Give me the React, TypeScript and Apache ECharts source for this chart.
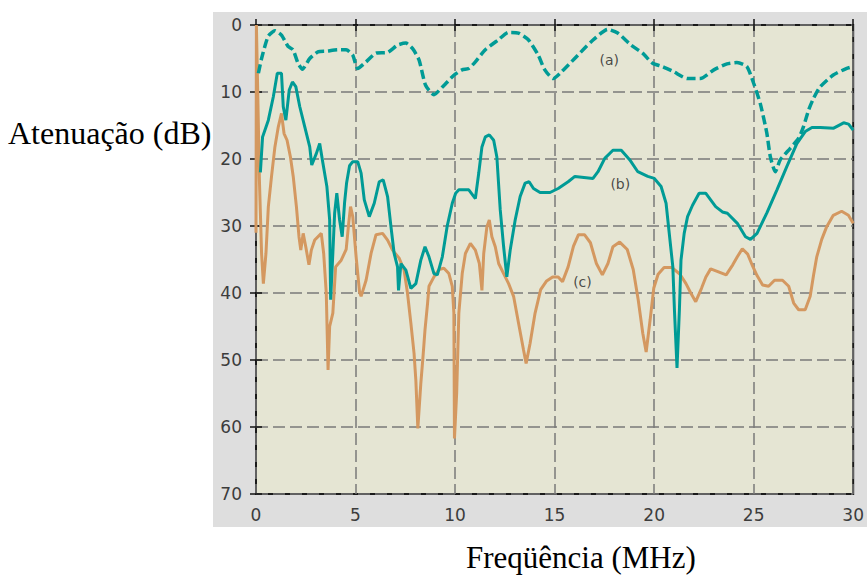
import React, { useEffect, useRef } from "react";
import * as echarts from "echarts";

const yTitle = "Atenuação (dB)";
const xTitle = "Freqüência (MHz)";

const xMin = 0;
const xMax = 30;
const xStep = 5;
const yMin = 0;
const yMax = 70;
const yStep = 10;

// (a) dashed teal
const curveA: [number, number][] = [
  [0.12, 7.2], [0.28, 5.0], [0.61, 1.7], [0.95, 0.85], [1.28, 1.5], [1.61, 3.2], [1.86, 3.7],
  [2.11, 5.7], [2.33, 6.6], [2.7, 5.0], [3.11, 4.0], [3.53, 3.9], [4.11, 3.7], [4.53, 3.7],
  [4.86, 4.5], [5.11, 6.5], [5.53, 5.5], [6.03, 4.2], [6.61, 4.1], [7.11, 3.0], [7.53, 2.7],
  [7.86, 3.5], [8.19, 5.2], [8.52, 9.0], [8.94, 10.4], [9.35, 9.3], [9.94, 7.5], [10.35, 6.7],
  [10.68, 6.5], [11.02, 5.5], [11.52, 3.7], [12.18, 2.2], [12.68, 1.1], [13.18, 1.2], [13.68, 2.2],
  [14.18, 4.5], [14.51, 6.7], [14.93, 8.0], [15.34, 7.0], [16.01, 5.0], [16.84, 2.5], [17.67, 0.65],
  [18.17, 1.2], [18.84, 3.0], [19.42, 4.2], [19.92, 5.7], [20.42, 6.2], [21.0, 7.0], [21.67, 8.0],
  [22.33, 8.0], [23.0, 6.7], [23.66, 5.8], [24.16, 5.6], [24.66, 6.2], [25.0, 8.7], [25.33, 11.7],
  [25.66, 16.1], [25.84, 19.7], [26.09, 21.9], [26.34, 20.1], [26.84, 18.4], [27.26, 16.9],
  [27.5, 15.2], [27.76, 12.7], [28.0, 11.0], [28.32, 9.3], [28.98, 7.5], [29.65, 6.5], [30, 6.2],
];

// (b) solid teal
const curveB: [number, number][] = [
  [0.22, 22.0], [0.33, 16.7], [0.62, 14.2], [0.87, 10.7], [1.07, 7.2], [1.28, 7.2], [1.37, 12.2],
  [1.5, 14.2], [1.67, 9.7], [1.83, 8.5], [2.0, 9.2], [2.2, 12.2], [2.45, 15.2], [2.7, 18.2],
  [2.8, 20.9], [3.03, 19.2], [3.2, 17.7], [3.36, 20.6], [3.56, 24.1], [3.7, 29.1], [3.75, 41.0],
  [3.86, 34.1], [3.95, 28.1], [4.06, 25.1], [4.2, 29.1], [4.33, 31.6], [4.45, 26.5], [4.55, 23.6],
  [4.7, 21.0], [4.86, 20.4], [5.11, 20.4], [5.28, 22.1], [5.44, 26.1], [5.69, 28.6], [5.94, 26.6],
  [6.19, 23.4], [6.39, 23.1], [6.61, 25.6], [6.78, 30.1], [6.94, 34.1], [7.11, 36.1], [7.16, 39.6],
  [7.28, 35.6], [7.53, 36.6], [7.78, 39.3], [8.03, 38.6], [8.28, 35.1], [8.49, 33.1], [8.69, 34.6],
  [8.94, 37.1], [9.11, 37.3], [9.36, 34.6], [9.6, 30.1], [9.86, 26.6], [10.03, 25.1], [10.19, 24.6],
  [10.69, 24.6], [11.02, 25.9], [11.19, 22.1], [11.35, 18.2], [11.52, 16.7], [11.72, 16.4],
  [11.94, 17.2], [12.1, 19.7], [12.27, 27.6], [12.44, 33.1], [12.6, 37.6], [12.77, 33.6],
  [13.02, 29.1], [13.27, 25.6], [13.52, 23.6], [13.72, 23.4], [13.94, 24.4], [14.27, 25.0],
  [14.77, 25.0], [15.18, 24.4], [15.68, 23.4], [16.02, 22.6], [16.93, 22.9], [17.18, 21.9],
  [17.52, 19.9], [17.93, 18.7], [18.35, 18.7], [18.77, 20.1], [19.18, 21.9], [19.68, 22.6],
  [20.01, 22.9], [20.35, 24.1], [20.6, 26.6], [20.76, 31.1], [20.94, 36.1], [21.02, 42.5],
  [21.15, 51.2], [21.27, 42.5], [21.35, 35.1], [21.51, 31.1], [21.68, 28.6], [21.93, 26.9],
  [22.26, 25.1], [22.59, 25.1], [23.09, 27.1], [23.43, 27.9], [23.68, 28.1], [24.18, 29.6],
  [24.59, 31.6], [24.84, 32.0], [25.17, 31.1], [25.67, 28.0], [26.17, 24.6], [26.67, 21.1],
  [27.17, 17.7], [27.59, 15.9], [27.93, 15.3], [28.35, 15.3], [29.02, 15.4], [29.52, 14.6],
  [29.77, 14.8], [30, 15.7],
];

// (c) solid orange
const curveC: [number, number][] = [
  [0, 31], [0.02, 0], [0.1, 12], [0.17, 23], [0.28, 34.1], [0.37, 38.6], [0.5, 34.1], [0.62, 27.1],
  [0.78, 22.6], [0.95, 18.2], [1.12, 15.2], [1.28, 13.2], [1.41, 16.2], [1.56, 17.2], [1.73, 19.7],
  [1.87, 22.6], [2.03, 27.1], [2.16, 31.6], [2.25, 33.6], [2.37, 31.1], [2.5, 33.1], [2.66, 35.8],
  [2.78, 33.6], [2.95, 32.1], [3.28, 31.1], [3.4, 34.1], [3.53, 40.0], [3.62, 51.5], [3.7, 45],
  [3.86, 43.0], [4.0, 36.1], [4.28, 35.1], [4.53, 33.5], [4.66, 29.5], [4.75, 27.1], [4.86, 28.6],
  [5.03, 34.6], [5.2, 39.8], [5.28, 40.5], [5.53, 38.1], [5.78, 34.1], [6.03, 31.3], [6.36, 31.1],
  [6.61, 32.1], [6.86, 33.6], [7.19, 34.8], [7.44, 36.6], [7.61, 40.0], [7.78, 44.5], [7.94, 49],
  [8.03, 53], [8.13, 60.2], [8.28, 53.5], [8.39, 49.5], [8.49, 45.5], [8.62, 41.5], [8.69, 39.0],
  [8.94, 37.6], [9.19, 36.5], [9.44, 36.3], [9.69, 37.1], [9.86, 39.0], [9.94, 43], [9.97, 61.7],
  [10.08, 55], [10.19, 43], [10.36, 37.1], [10.52, 34.1], [10.77, 32.6], [11.02, 33.6],
  [11.22, 35.6], [11.35, 39.6], [11.44, 34.1], [11.6, 30.1], [11.72, 29.1], [11.85, 31.6],
  [12.02, 33.1], [12.19, 35.6], [12.44, 37.1], [12.69, 38.6], [12.94, 40.5], [13.19, 44.5],
  [13.44, 48.5], [13.57, 50.5], [13.77, 47.5], [14.02, 43.0], [14.3, 39.5], [14.6, 38.2],
  [14.9, 37.6], [15.18, 37.6], [15.4, 38.3], [15.68, 36.1], [15.95, 33.0], [16.2, 31.3],
  [16.5, 31.3], [16.8, 32.5], [17.1, 35.6], [17.4, 37.3], [17.68, 35.6], [17.93, 33.1],
  [18.27, 32.4], [18.65, 33.5], [18.95, 36.5], [19.2, 41.0], [19.43, 46], [19.6, 48.8],
  [19.8, 44], [19.98, 39.3], [20.2, 37.2], [20.5, 36.2], [20.9, 36.2], [21.3, 37.2], [21.6, 38.6],
  [21.84, 40], [22.09, 41.3], [22.38, 39.3], [22.6, 37.6], [22.84, 36.4], [23.2, 36.8],
  [23.62, 37.3], [23.95, 35.8], [24.18, 34.6], [24.43, 33.4], [24.7, 34.2], [24.95, 36],
  [25.17, 37.4], [25.45, 38.8], [25.75, 39.0], [26.05, 38.1], [26.45, 38.1], [26.76, 39.0],
  [27.01, 41.5], [27.26, 42.5], [27.59, 42.5], [27.84, 40.5], [28.01, 37.3], [28.17, 34.6],
  [28.42, 32.0], [28.67, 30.1], [29.0, 28.4], [29.42, 27.8], [29.76, 28.4], [30, 29.6],
];

// curve tags and where they sit (data coordinates)
const tagNames = ["(a)", "(b)", "(c)"];
const tagPoints: [number, number][] = [
  [17.75, 5.2],
  [18.3, 23.8],
  [16.4, 38.3],
];

const TEAL = "#009b96";
const ORANGE = "#d49860";

export default function App() {
  const ref = useRef<HTMLDivElement>(null);

  useEffect(() => {
    if (!ref.current) return;
    const chart = echarts.init(ref.current, null, { renderer: "svg" });

    const tickFont = {
      fontFamily: "DejaVu Sans",
      fontSize: 17,
      color: "#3c3c3c",
    };
    const split = {
      show: true,
      lineStyle: { color: "#7a7a7a", width: 1.5, type: [12, 5] as any },
    };
    const tick = {
      show: true,
      inside: true,
      length: 6,
      lineStyle: { color: "#111", width: 1.5 },
    };

    chart.setOption({
      animation: false,
      backgroundColor: "#ffffff",
      grid: {
        left: 256,
        top: 25,
        width: 601,
        height: 469,
        show: true,
        backgroundColor: "#e5e5d3",
        borderColor: "#1a1a1a",
        borderWidth: 2,
      },
      graphic: [
        {
          type: "rect",
          z: -10,
          silent: true,
          shape: { x: 213, y: 12, width: 654, height: 515 },
          style: { fill: "#dedede" },
        },
        {
          type: "text",
          x: 8,
          y: 133,
          style: {
            text: yTitle,
            font: '32px "Liberation Serif"',
            fill: "#000",
            verticalAlign: "middle",
            align: "left",
          },
        },
        {
          type: "text",
          x: 466,
          y: 557,
          style: {
            text: xTitle,
            font: '31px "Liberation Serif"',
            fill: "#000",
            verticalAlign: "middle",
            align: "left",
          },
        },
      ],
      xAxis: [
        {
          type: "value",
          min: xMin,
          max: xMax,
          interval: xStep,
          axisLine: { show: false },
          axisTick: tick,
          splitLine: split,
          axisLabel: { ...tickFont, margin: 12 },
        },
        {
          type: "value",
          position: "top",
          min: xMin,
          max: xMax,
          interval: xStep,
          axisLine: { show: false },
          axisTick: tick,
          splitLine: { show: false },
          axisLabel: { show: false },
        },
      ],
      yAxis: [
        {
          type: "value",
          inverse: true,
          min: yMin,
          max: yMax,
          interval: yStep,
          axisLine: { show: false },
          axisTick: tick,
          splitLine: split,
          axisLabel: { ...tickFont, margin: 14 },
        },
        {
          type: "value",
          position: "right",
          inverse: true,
          min: yMin,
          max: yMax,
          interval: yStep,
          axisLine: { show: false },
          axisTick: tick,
          splitLine: { show: false },
          axisLabel: { show: false },
        },
      ],
      series: [
        {
          type: "line",
          name: "a",
          data: curveA,
          showSymbol: false,
          symbol: "none",
          smooth: 0.2,
          lineStyle: { color: TEAL, width: 3.5, type: [9, 4] },
          z: 3,
        },
        {
          type: "line",
          name: "c",
          data: curveC,
          showSymbol: false,
          symbol: "none",
          lineStyle: { color: ORANGE, width: 3 },
          z: 2,
        },
        {
          type: "line",
          name: "b",
          data: curveB,
          showSymbol: false,
          symbol: "none",
          lineStyle: { color: TEAL, width: 3 },
          z: 3,
        },
        {
          type: "scatter",
          name: "tags",
          data: tagPoints.map((p, i) => ({ value: p, name: tagNames[i] })),
          symbolSize: 0,
          silent: true,
          z: 5,
          label: {
            show: true,
            position: "inside",
            formatter: (p: any) => p.name,
            fontFamily: "DejaVu Sans",
            fontSize: 14,
            color: "#222",
          },
        },
      ],
    });

    return () => chart.dispose();
  }, []);

  return (
    <div
      ref={ref}
      style={{
        position: "fixed",
        left: 0,
        top: 0,
        width: 867,
        height: 576,
        background: "#fff",
      }}
    />
  );
}
